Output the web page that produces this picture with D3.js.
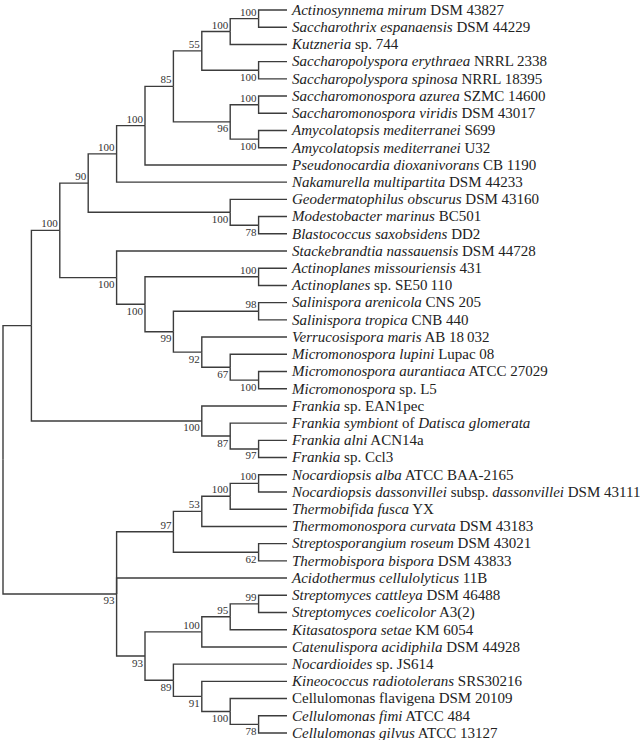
<!DOCTYPE html>
<html><head><meta charset="utf-8">
<script src="https://cdn.jsdelivr.net/npm/d3@7"></script>
<style>body{margin:0;background:#fff}</style>
</head><body><svg id="chart" width="640" height="740"></svg>
<script>
// Tree topology (leaf indices refer to leafLabels), bootstrap support after ')'
const newick = "((((((((((0,1)100,2)100,(3,4)100)55,((5,6)100,(7,8)100)96)85,9)100,10)100,(11,(12,13)78)100)90,(14,((15,16)100,((17,18)98,(19,(20,(21,22)100)67)92)99)100)100)100,(23,(24,(25,26)97)87)100),(((((27,28)100,29)100,30)53,(31,32)62)97,33,((((34,35)99,36)95,37)100,(38,(39,(40,(41,42)78)100)91)89)93)93);";

// Leaf labels: *...* = italic
const leafLabels = [
  "*Actinosynnema mirum* DSM 43827",
  "*Saccharothrix espanaensis* DSM 44229",
  "*Kutzneria* sp. 744",
  "*Saccharopolyspora erythraea* NRRL 2338",
  "*Saccharopolyspora spinosa* NRRL 18395",
  "*Saccharomonospora azurea* SZMC 14600",
  "*Saccharomonospora viridis* DSM 43017",
  "*Amycolatopsis mediterranei* S699",
  "*Amycolatopsis mediterranei* U32",
  "*Pseudonocardia dioxanivorans* CB 1190",
  "*Nakamurella multipartita* DSM 44233",
  "*Geodermatophilus obscurus* DSM 43160",
  "*Modestobacter marinus* BC501",
  "*Blastococcus saxobsidens* DD2",
  "*Stackebrandtia nassauensis* DSM 44728",
  "*Actinoplanes missouriensis* 431",
  "*Actinoplanes* sp. SE50\u2009110",
  "*Salinispora arenicola* CNS 205",
  "*Salinispora tropica* CNB 440",
  "*Verrucosispora maris* AB 18\u2009032",
  "*Micromonospora lupini* Lupac 08",
  "*Micromonospora aurantiaca* ATCC 27029",
  "*Micromonospora* sp. L5",
  "*Frankia* sp. EAN1pec",
  "*Frankia symbiont* of *Datisca glomerata*",
  "*Frankia alni* ACN14a",
  "*Frankia* sp. Ccl3",
  "*Nocardiopsis alba* ATCC BAA-2165",
  "*Nocardiopsis dassonvillei* subsp. *dassonvillei* DSM 43111",
  "*Thermobifida fusca* YX",
  "*Thermomonospora curvata* DSM 43183",
  "*Streptosporangium roseum* DSM 43021",
  "*Thermobispora bispora* DSM 43833",
  "*Acidothermus cellulolyticus* 11B",
  "*Streptomyces cattleya* DSM 46488",
  "*Streptomyces coelicolor* A3(2)",
  "*Kitasatospora setae* KM 6054",
  "*Catenulispora acidiphila* DSM 44928",
  "*Nocardioides* sp. JS614",
  "*Kineococcus radiotolerans* SRS30216",
  "Cellulomonas flavigena DSM 20109",
  "*Cellulomonas fimi* ATCC 484",
  "*Cellulomonas gilvus* ATCC 13127"
];

function parseNewick(s) {
  let i = 0;
  function node() {
    const n = {};
    if (s[i] === "(") {
      i++;
      n.children = [node()];
      while (s[i] === ",") { i++; n.children.push(node()); }
      i++;
    }
    let tok = "";
    while (i < s.length && !",();".includes(s[i])) tok += s[i++];
    if (n.children) n.support = tok; else n.leaf = +tok;
    return n;
  }
  return node();
}

const svg = d3.select("#chart");
const root = d3.hierarchy(parseNewick(newick));
const leaves = root.leaves();

const x = d3.scaleLinear().domain([0, root.height]).range([3, 287]);
const y = d3.scalePoint().domain(leaves.map(d => d.data.leaf)).range([10, 733]);

root.eachAfter(n => {
  n.px = x(root.height - n.height);
  if (n.children) {
    n.py = (n.children[0].py + n.children[n.children.length - 1].py) / 2;
  } else {
    n.py = y(n.data.leaf);
  }
});

const lineColor = "#3c3c3c";
const g = svg.append("g");

// branches (elbow)
g.selectAll("path.link")
  .data(root.descendants().filter(d => d.parent))
  .join("path")
  .attr("class", "link")
  .attr("fill", "none")
  .attr("stroke", lineColor)
  .attr("stroke-width", 1.4)
  .attr("d", d => `M${d.parent.px},${d.parent.py}V${d.py}H${d.px}`);

// bootstrap labels
g.selectAll("text.boot")
  .data(root.descendants().filter(d => d.parent && d.children && d.data.support))
  .join("text")
  .attr("class", "boot")
  .attr("x", d => d.px - 2)
  .attr("y", d => d.parent.children[0] === d ? d.py - 3 : d.py + 10.5)
  .attr("text-anchor", "end")
  .attr("font-family", "'Liberation Serif', 'DejaVu Serif', serif")
  .attr("font-size", 11)
  .attr("fill", "#333")
  .text(d => d.data.support);

// leaf labels
const lt = g.selectAll("text.leaf")
  .data(leaves)
  .join("text")
  .attr("class", "leaf")
  .attr("x", d => d.px + 5)
  .attr("y", d => d.py)
  .attr("dy", "0.32em")
  .attr("font-family", "'Liberation Serif', 'DejaVu Serif', serif")
  .attr("font-size", 15)
  .attr("fill", "#222");

lt.each(function(d) {
  const parts = leafLabels[d.data.leaf].split("*");
  const t = d3.select(this);
  parts.forEach((p, k) => {
    if (!p) return;
    t.append("tspan")
      .attr("font-style", k % 2 === 1 ? "italic" : "normal")
      .text(p);
  });
});
</script>
</body></html>
